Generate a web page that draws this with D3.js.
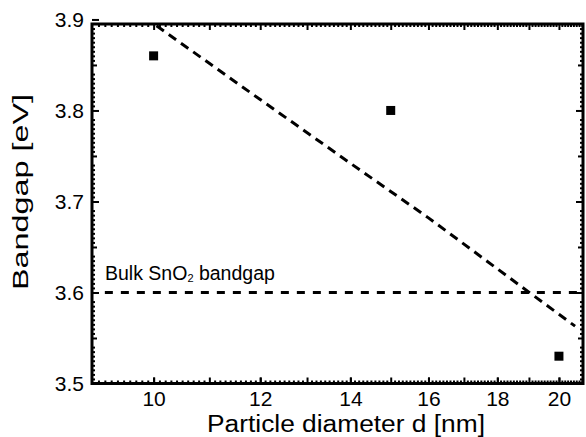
<!DOCTYPE html>
<html>
<head>
<style>
  body { margin: 0; background: #fff; }
  text { font-family: "Liberation Sans", Arial, sans-serif; fill: #000; }
</style>
</head>
<body>
<script src="https://d3js.org/d3.v7.min.js"></script>
<script>
// measured bandgap vs particle diameter
var diameters = [10, 15, 20];
var bandgaps = [3.86, 3.80, 3.53];

// dashed trend line
var fitD = [10.05, 12, 14, 16, 18, 20, 20.56];
var fitE = [3.893, 3.812, 3.742, 3.682, 3.626, 3.576, 3.563];

// bulk reference level
var bulkGap = 3.6;
var bulkStart = 9.2;

var xTicks = [10, 12, 14, 16, 18, 20];
var yTicks = [3.5, 3.6, 3.7, 3.8, 3.9];

var W = 586, H = 437;
var pLeft = 92, pRight = 583, pTop = 24, pBottom = 383.5;

var svg = d3.select("body").append("svg")
  .attr("width", W)
  .attr("height", H);

var x = d3.scaleLog().domain([9, 20.84]).range([pLeft, pRight]);
var y = d3.scaleLinear().domain([3.5, 3.895]).range([pBottom, pTop]);

// tick positions
var xMajor = d3.range(10, 21, 1);
var xMinor = d3.range(91, 209, 1).map(function(v) { return v / 10; }).filter(function(v) { return v % 1 != 0; });
var yMid = [3.55, 3.65, 3.75, 3.85];
var yMinor = d3.range(700, 779, 1).map(function(v) { return v / 200; }).filter(function(v) { return Math.round(v * 100) % 5 != 0; });

function styleAxis(g) {
  g.attr("font-size", 21).attr("font-family", "Liberation Sans, Arial, sans-serif");
  g.select(".domain").remove();
  g.selectAll(".tick line").attr("stroke", "#000").attr("stroke-width", 2);
  g.selectAll("text").attr("fill", "#000");
}

function addTicks(axisFn, pos, vals, size, fmt) {
  var a = axisFn.tickValues(vals).tickSize(size).tickPadding(8);
  a.tickFormat(fmt || function() { return ""; });
  svg.append("g").attr("transform", pos).call(a).call(styleAxis);
}

// bottom + top
addTicks(d3.axisBottom(x), "translate(0," + pBottom + ")", xMinor, -3);
addTicks(d3.axisBottom(x), "translate(0," + pBottom + ")", xMajor, -6);
addTicks(d3.axisBottom(x), "translate(0," + pBottom + ")", xTicks, -6, d3.format("d"));
addTicks(d3.axisTop(x), "translate(0," + pTop + ")", xMinor, -3);
addTicks(d3.axisTop(x), "translate(0," + pTop + ")", xMajor, -6);

// left + right
addTicks(d3.axisLeft(y), "translate(" + pLeft + ",0)", yMinor, -3);
addTicks(d3.axisLeft(y), "translate(" + pLeft + ",0)", yMid, -5);
addTicks(d3.axisLeft(y), "translate(" + pLeft + ",0)", yTicks, -7, d3.format(".1f"));
addTicks(d3.axisRight(y), "translate(" + pRight + ",0)", yMinor, -3);
addTicks(d3.axisRight(y), "translate(" + pRight + ",0)", yMid, -5);
addTicks(d3.axisRight(y), "translate(" + pRight + ",0)", yTicks.slice(0, 4), -7);

// frame
svg.append("rect")
  .attr("x", pLeft).attr("y", pTop)
  .attr("width", pRight - pLeft).attr("height", pBottom - pTop)
  .attr("fill", "none").attr("stroke", "#000").attr("stroke-width", 3);

svg.append("clipPath").attr("id", "plot")
  .append("rect")
  .attr("x", pLeft).attr("y", pTop)
  .attr("width", pRight - pLeft).attr("height", pBottom - pTop);

// bulk SnO2 level
svg.append("line")
  .attr("x1", x(bulkStart)).attr("x2", pRight)
  .attr("y1", y(bulkGap)).attr("y2", y(bulkGap))
  .attr("stroke", "#000").attr("stroke-width", 3)
  .attr("stroke-dasharray", "8,8");

var bulkText = svg.append("text")
  .attr("x", 105).attr("y", y(bulkGap) - 12)
  .style("font-size", "19.5px");
bulkText.append("tspan").text("Bulk SnO");
bulkText.append("tspan").attr("dy", 2).style("font-size", "11px").text("2");
bulkText.append("tspan").attr("dy", -2).text(" bandgap");

// trend line
var fitData = fitD.map(function(d, i) { return [d, fitE[i]]; });
svg.append("path")
  .datum(fitData)
  .attr("clip-path", "url(#plot)")
  .attr("d", d3.line()
    .x(function(d) { return x(d[0]); })
    .y(function(d) { return y(d[1]); }))
  .attr("fill", "none")
  .attr("stroke", "#000").attr("stroke-width", 3)
  .attr("stroke-dasharray", "9,6");

// data points
svg.selectAll(".pt")
  .data(diameters)
  .enter()
  .append("rect")
  .attr("class", "pt")
  .attr("x", function(d) { return x(d) - 4.5; })
  .attr("y", function(d, i) { return y(bandgaps[i]) - 4.5; })
  .attr("width", 9).attr("height", 9)
  .attr("fill", "#000");

// axis titles
svg.append("text")
  .attr("x", 346).attr("y", 432)
  .attr("text-anchor", "middle")
  .attr("textLength", 278).attr("lengthAdjust", "spacingAndGlyphs")
  .style("font-size", "23px")
  .text("Particle diameter d [nm]");

svg.append("text")
  .attr("transform", "translate(28,192) rotate(-90)")
  .attr("text-anchor", "middle")
  .attr("textLength", 196).attr("lengthAdjust", "spacingAndGlyphs")
  .style("font-size", "22px")
  .text("Bandgap [eV]");
</script>
</body>
</html>
